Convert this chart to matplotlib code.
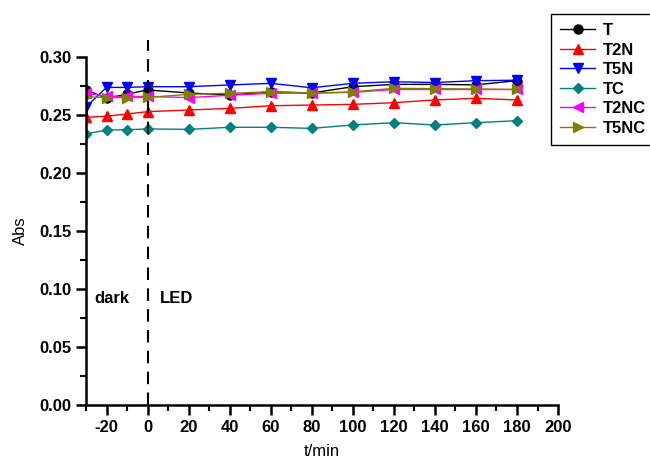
import matplotlib
matplotlib.use("Agg")
import matplotlib.pyplot as plt
from matplotlib.ticker import MultipleLocator, FormatStrFormatter

plt.rcParams['font.family'] = ['Liberation Sans', 'DejaVu Sans']
plt.rcParams['axes.unicode_minus'] = False

t = [-30, -20, -10, 0, 20, 40, 60, 80, 100, 120, 140, 160, 180]
T    = [0.2716, 0.2645, 0.2680, 0.2716, 0.2690, 0.2672, 0.2700, 0.2690, 0.2744, 0.2764, 0.2764, 0.2760, 0.2796]
T2N  = [0.2480, 0.2490, 0.2509, 0.2529, 0.2543, 0.2557, 0.2580, 0.2586, 0.2592, 0.2606, 0.2630, 0.2644, 0.2630]
T5N  = [0.2570, 0.2738, 0.2738, 0.2744, 0.2744, 0.2759, 0.2773, 0.2735, 0.2773, 0.2787, 0.2780, 0.2796, 0.2800]
TC   = [0.2336, 0.2371, 0.2373, 0.2380, 0.2376, 0.2394, 0.2394, 0.2385, 0.2414, 0.2434, 0.2414, 0.2434, 0.2451]
T2NC = [0.2690, 0.2660, 0.2660, 0.2660, 0.2650, 0.2670, 0.2687, 0.2690, 0.2695, 0.2720, 0.2720, 0.2720, 0.2720]
T5NC = [0.2658, 0.2650, 0.2650, 0.2652, 0.2678, 0.2687, 0.2700, 0.2687, 0.2700, 0.2730, 0.2727, 0.2724, 0.2720]

series = [
    ("T", T, "black", "o"),
    ("T2N", T2N, "#ff0000", "^"),
    ("T5N", T5N, "#0000ff", "v"),
    ("TC", TC, "#008080", "D"),
    ("T2NC", T2NC, "#ff00ff", "<"),
    ("T5NC", T5NC, "#808000", ">"),
]

fig = plt.figure(figsize=(6.5, 4.59), dpi=100)
ax = fig.add_axes([0.1323, 0.1176, 0.7262, 0.7582])

handles = []
for name, vals, col, mk in series:
    ms = 5.5 if mk == "D" else 6.5
    h, = ax.plot(t, vals, color=col, marker=mk, markersize=ms, linewidth=1.0, label=name)
    handles.append(h)

ax.set_xlim(-30, 200)
ax.set_ylim(0, 0.30)
ax.plot([0, 0], [0, 0.315], color="black", linestyle=(0, (6, 4)), linewidth=1.5, clip_on=False)

ax.spines['top'].set_visible(False)
ax.spines['right'].set_visible(False)
for s in ['left', 'bottom']:
    ax.spines[s].set_linewidth(1.8)

ax.set_xticks(list(range(-20, 201, 20)))
ax.xaxis.set_minor_locator(MultipleLocator(10))
ax.yaxis.set_major_locator(MultipleLocator(0.05))
ax.yaxis.set_minor_locator(MultipleLocator(0.025))
ax.tick_params(which='major', direction='out', length=7, width=1.8, labelsize=12)
ax.tick_params(which='minor', direction='out', length=4, width=1.5)
ax.yaxis.set_major_formatter(FormatStrFormatter('%.2f'))
for lab in ax.get_xticklabels() + ax.get_yticklabels():
    lab.set_fontweight('bold')

ax.set_xlabel("t/min", fontsize=12, labelpad=7)
ax.set_ylabel("Abs", fontsize=12, labelpad=8)

ax.text(-26, 0.092, "dark", fontsize=12, fontweight='bold', va='center')
ax.text(6, 0.092, "LED", fontsize=12, fontweight='bold', va='center')

leg = fig.legend(handles=handles, loc='upper left', bbox_to_anchor=(551/650, 1 - 14/459),
                 borderaxespad=0, frameon=True, fancybox=False, edgecolor='black', framealpha=1,
                 prop={'weight': 'bold', 'size': 12}, labelspacing=0.27,
                 handlelength=2.1, handletextpad=0.45, borderpad=0.55)
leg.get_frame().set_linewidth(1.0)

fig.savefig("out.png", dpi=100)
